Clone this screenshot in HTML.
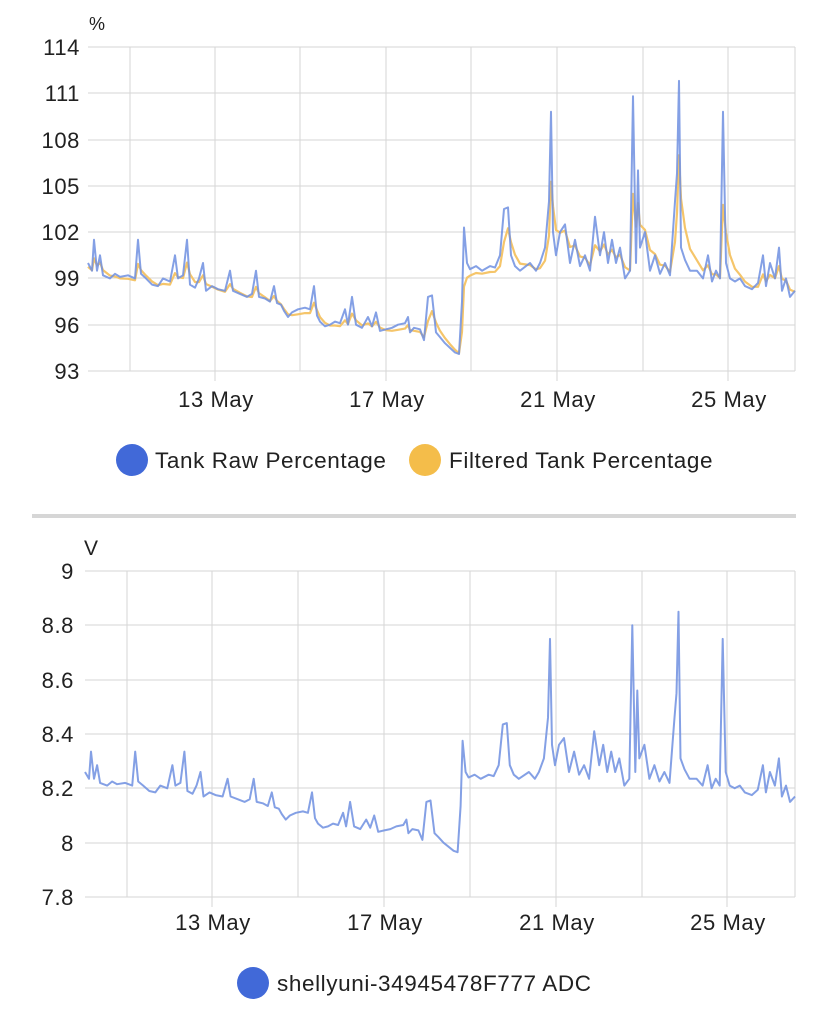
<!DOCTYPE html>
<html><head><meta charset="utf-8"><style>
html,body{margin:0;padding:0;background:#fff;}
body{width:828px;height:1025px;overflow:hidden;font-family:"Liberation Sans",Roboto,sans-serif;}
svg text{font-family:"Liberation Sans",sans-serif;fill:#212121;}
.t{letter-spacing:0.6px}
</style></head><body>
<svg id="s" width="828" height="1025" xmlns="http://www.w3.org/2000/svg">
<g stroke="#d6d6d6" stroke-width="1">
<line x1="88" y1="47" x2="795" y2="47"/><line x1="88" y1="93" x2="795" y2="93"/><line x1="88" y1="140" x2="795" y2="140"/><line x1="88" y1="186" x2="795" y2="186"/><line x1="88" y1="232" x2="795" y2="232"/><line x1="88" y1="278" x2="795" y2="278"/><line x1="88" y1="325" x2="795" y2="325"/><line x1="88" y1="371" x2="795" y2="371"/>
<line x1="130" y1="47" x2="130" y2="371"/><line x1="215" y1="47" x2="215" y2="381"/><line x1="300" y1="47" x2="300" y2="371"/><line x1="386" y1="47" x2="386" y2="381"/><line x1="471" y1="47" x2="471" y2="371"/><line x1="557" y1="47" x2="557" y2="381"/><line x1="643" y1="47" x2="643" y2="371"/><line x1="728" y1="47" x2="728" y2="381"/><line x1="795" y1="47" x2="795" y2="371"/>
<line x1="85" y1="571" x2="795" y2="571"/><line x1="85" y1="625" x2="795" y2="625"/><line x1="85" y1="680" x2="795" y2="680"/><line x1="85" y1="734" x2="795" y2="734"/><line x1="85" y1="788" x2="795" y2="788"/><line x1="85" y1="843" x2="795" y2="843"/><line x1="85" y1="897" x2="795" y2="897"/>
<line x1="127" y1="571" x2="127" y2="897"/><line x1="212" y1="571" x2="212" y2="907"/><line x1="298" y1="571" x2="298" y2="897"/><line x1="384" y1="571" x2="384" y2="907"/><line x1="470" y1="571" x2="470" y2="897"/><line x1="556" y1="571" x2="556" y2="907"/><line x1="642" y1="571" x2="642" y2="897"/><line x1="727" y1="571" x2="727" y2="907"/><line x1="795" y1="571" x2="795" y2="897"/>
</g>
<g font-size="22" text-anchor="end" class="t">
<text x="80" y="55">114</text><text x="80" y="101">111</text><text x="80" y="148">108</text><text x="80" y="194">105</text><text x="80" y="240">102</text><text x="80" y="286">99</text><text x="80" y="333">96</text><text x="80" y="379">93</text>
<text x="74" y="579">9</text><text x="74" y="633">8.8</text><text x="74" y="688">8.6</text><text x="74" y="742">8.4</text><text x="74" y="796">8.2</text><text x="74" y="851">8</text><text x="74" y="905">7.8</text>
</g>
<text x="89" y="30" font-size="18">%</text>
<text x="84" y="555" font-size="21">V</text>
<g font-size="22" text-anchor="middle" class="t">
<text x="216" y="407">13 May</text><text x="387" y="407">17 May</text><text x="558" y="407">21 May</text><text x="729" y="407">25 May</text>
<text x="213" y="930">13 May</text><text x="385" y="930">17 May</text><text x="557" y="930">21 May</text><text x="728" y="930">25 May</text>
</g>
<circle cx="132" cy="460" r="16" fill="#4169d8"/><text x="155" y="468" font-size="22.5" class="t">Tank Raw Percentage</text>
<circle cx="425" cy="460" r="16" fill="#f4bd4a"/><text x="449" y="468" font-size="22.5" class="t">Filtered Tank Percentage</text>
<rect x="32" y="514" width="764" height="4" fill="#d6d6d6"/>
<circle cx="253" cy="983" r="16" fill="#4169d8"/><text x="277" y="991" font-size="22.5" class="t">shellyuni-34945478F777 ADC</text>
<polyline id="f" fill="none" stroke="#f5c56a" stroke-width="2.2" stroke-linejoin="round"/>
<polyline id="r" fill="none" stroke="#6f8fe0" stroke-opacity="0.85" stroke-width="2" stroke-linejoin="round"/>
<polyline id="b" fill="none" stroke="#6f8fe0" stroke-opacity="0.85" stroke-width="2" stroke-linejoin="round"/>
</svg>
<script>
var d=[88,100,92,99.5,94,101.5,97,99.5,100,100.5,103,99.2,110,99.0,115,99.3,120,99.1,128,99.2,135,99.0,138,101.5,141,99.3,146,99.0,152,98.6,158,98.5,163,99.0,170,98.8,175,100.5,178,99.0,183,99.2,187,101.5,190,98.6,195,98.4,199,99.0,203,100,206,98.2,212,98.5,218,98.3,225,98.2,230,99.5,233,98.2,240,98.0,247,97.8,252,98.0,256,99.5,259,97.8,265,97.7,270,97.5,274,98.5,277,97.4,281,97.3,284,96.9,288,96.5,292,96.8,298,97.0,305,97.1,310,97.0,314,98.5,317,96.6,320,96.2,325,95.9,330,96.0,335,96.2,340,96.1,345,97.0,348,96.0,352,97.8,356,96.0,362,95.8,368,96.5,372,95.9,376,96.8,380,95.6,386,95.7,392,95.8,398,96.0,405,96.1,408,96.5,410,95.5,414,95.8,420,95.7,424,95.0,428,97.8,432,97.9,436,95.5,440,95.2,445,94.8,450,94.5,455,94.2,459,94.1,462,97.5,464,102.3,467,100,470,99.6,476,99.8,482,99.5,490,99.8,495,99.7,500,100.5,504,103.5,508,103.6,511,100.5,515,99.8,520,99.5,530,100.0,536,99.5,540,100,545,101,549,104,551,109.8,553,102,556,100.5,560,102,565,102.5,570,100,575,101.5,580,99.8,585,100.5,590,99.5,595,103,600,100.5,604,102,608,100,612,101.5,616,100,620,101,625,99,630,99.5,633,110.8,636,100,638,106,640,101,645,102,650,99.5,655,100.5,660,99.3,665,100,670,99.2,675,104,677,105.8,679,111.8,681,101,685,100.2,690,99.5,697,99.5,703,99.0,708,100.5,712,98.8,716,99.5,720,99.0,723,109.8,726,100,730,99,735,98.8,740,99,745,98.5,752,98.3,758,98.7,763,100.5,766,98.5,770,100,775,99,779,101,782,98.2,786,99,790,97.8,795,98.2];
var r=[],f=[],b=[],s=d[1];
for(var i=0;i<d.length;i+=2){var x=d[i],p=d[i+1];
r.push(x+","+(371-(p-93)*15.43).toFixed(1));
s=s+(p-s)*0.45;var fp=s-0.25;
f.push(x+","+(371-(fp-93)*15.43).toFixed(1));
var v=8.21+(p-99)*0.05;var bx=85+(x-88)*710/707;
b.push(bx.toFixed(1)+","+(897-(v-7.8)*271.7).toFixed(1));}
document.getElementById('r').setAttribute('points',r.join(' '));
document.getElementById('f').setAttribute('points',f.join(' '));
document.getElementById('b').setAttribute('points',b.join(' '));
</script>
</body></html>
